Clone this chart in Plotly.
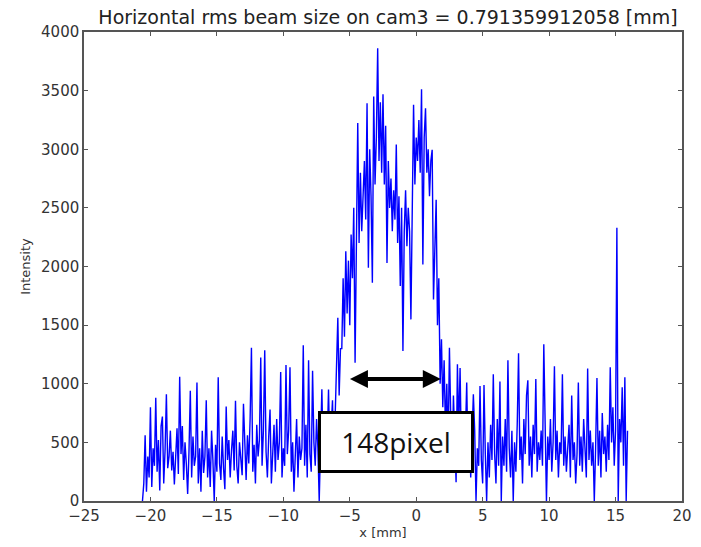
import numpy as np
import plotly.graph_objects as go

# x grid: -20.6 mm to 15.9 mm in 0.1 mm steps (one row per mm)
x_start = -20.6
x_step = 0.1

intensity_rows = [
    [0, 150, 560, 80, 380, 200, 800, 120, 450, 300],            # -20.6
    [880, 250, 520, 90, 640, 720, 150, 430, 910, 280],          # -19.6
    [380, 600, 260, 420, 140, 350, 620, 230, 1060, 400],        # -18.6
    [640, 180, 500, 320, 60, 420, 940, 200, 550, 300],          # -17.6
    [380, 1010, 150, 450, 80, 600, 240, 380, 860, 200],         # -16.6
    [450, 120, 600, 350, 0, 480, 250, 1055, 320, 180],          # -15.6
    [550, 280, 100, 806, 350, 520, 200, 430, 600, 260],         # -14.6
    [855, 300, 150, 500, 380, 220, 830, 400, 180, 560],         # -13.6
    [320, 700, 1308, 250, 480, 150, 650, 380, 520, 1223],       # -12.6
    [300, 600, 1285, 420, 200, 550, 780, 150, 400, 650],        # -11.6
    [250, 700, 350, 500, 1100, 200, 450, 300, 1160, 400],       # -10.6
    [600, 1140, 250, 500, 80, 380, 700, 200, 550, 350],         # -9.6
    [450, 1328, 300, 650, 200, 1200, 400, 250, 1110, 500],      # -8.6
    [300, 700, 450, 0, 600, 953, 350, 550, 250, 480],           # -7.6
    [950, 400, 620, 860, 300, 700, 1237, 1563, 900, 1300],      # -6.6
    [1300, 1900, 1400, 2130, 1600, 2050, 1500, 2272, 1900, 2500],  # -5.6
    [1180, 2400, 3223, 2200, 2800, 2300, 2650, 2900, 2400, 3393],  # -4.6
    [1990, 3000, 2600, 1861, 3450, 2700, 3100, 3861, 2900, 3400],  # -3.6
    [2800, 3470, 2700, 3200, 2031, 2900, 2500, 2750, 2300, 2650],  # -2.6
    [2400, 3040, 2200, 2600, 1833, 2500, 1279, 2300, 2650, 2173],  # -1.6
    [2500, 2300, 1549, 2800, 3379, 2700, 3100, 2900, 3250, 2800],  # -0.6
    [3512, 2017, 3100, 3350, 2800, 3000, 2600, 2900, 2996, 1719],  # 0.4
    [2300, 2570, 1500, 1900, 1000, 1379, 800, 1200, 600, 1000],    # 1.4
    [450, 1308, 700, 300, 900, 500, 160, 1166, 600, 1135],      # 2.4
    [400, 750, 250, 550, 1010, 300, 650, 200, 500, 910],        # 3.4
    [600, 0, 450, 300, 981, 350, 150, 990, 400, 0],             # 4.4
    [500, 200, 650, 350, 1081, 400, 150, 700, 300, 1020],       # 5.4
    [0, 550, 300, 700, 250, 1200, 450, 200, 600, 0],            # 6.4
    [500, 250, 650, 1260, 350, 550, 150, 700, 400, 900],        # 7.4
    [1030, 300, 550, 200, 650, 400, 1040, 250, 500, 350],       # 8.4
    [600, 300, 1336, 450, 0, 550, 350, 700, 250, 500],          # 9.4
    [1150, 350, 600, 200, 500, 400, 1080, 300, 550, 250],       # 10.4
    [450, 650, 200, 900, 350, 500, 150, 400, 1010, 300],        # 11.4
    [550, 250, 700, 400, 200, 1130, 350, 600, 300, 500],        # 12.4
    [0, 450, 1050, 300, 600, 200, 750, 400, 550, 250],          # 13.4
    [650, 350, 1140, 500, 800, 300, 600, 2330, 0, 700],         # 14.4
    [500, 970, 300, 1055, 0, 600],                              # 15.4
]

intensity = [v for row in intensity_rows for v in row]
x_mm = np.round(x_start + x_step * np.arange(len(intensity)), 2)

title_text = "Horizontal rms beam size on cam3 = 0.791359912058 [mm]"
x_ticks = [-25, -20, -15, -10, -5, 0, 5, 10, 15, 20]
y_ticks = [0, 500, 1000, 1500, 2000, 2500, 3000, 3500, 4000]
arrow_x = [-5.1, 1.85]
arrow_y = 1040
label_text = "148pixel"
label_pos = (-1.55, 500)

fig = go.Figure()
fig.add_trace(go.Scatter(
    x=x_mm, y=intensity, mode="lines",
    line=dict(color="#0000ff", width=1.4),
    showlegend=False, hoverinfo="skip",
))

axis_common = dict(
    showgrid=False, zeroline=False, showline=True, linecolor="#555555",
    linewidth=1.5, mirror="ticks", ticks="inside", ticklen=4,
    tickcolor="#555555", tickfont=dict(family="DejaVu Sans", size=15, color="#333333"),
)

fig.update_xaxes(range=[-25, 20], tickvals=x_ticks,
                 ticktext=[str(t).replace("-", "\u2212") for t in x_ticks],
                 title=dict(text="x [mm]", font=dict(family="DejaVu Sans", size=13, color="#333333"), standoff=4),
                 **axis_common)
fig.update_yaxes(range=[0, 4000], tickvals=y_ticks,
                 title=dict(text="Intensity", font=dict(family="DejaVu Sans", size=13, color="#333333"), standoff=8),
                 **axis_common)

fig.add_annotation(
    x=arrow_x[1], y=arrow_y, ax=arrow_x[0], ay=arrow_y,
    xref="x", yref="y", axref="x", ayref="y",
    text="", showarrow=True, arrowhead=2, arrowside="end+start",
    arrowsize=0.9, arrowwidth=4, arrowcolor="black",
)
fig.add_annotation(
    x=label_pos[0], y=label_pos[1], xref="x", yref="y",
    text=label_text, showarrow=False,
    font=dict(family="Open Sans", size=28, color="#111111"),
    bgcolor="white", bordercolor="black", borderwidth=3, borderpad=6,
    width=138, height=44,
)

fig.update_layout(
    width=701, height=547,
    margin=dict(l=84, r=9, t=32, b=45),
    paper_bgcolor="white", plot_bgcolor="white",
    title=dict(text=title_text, x=(84 + 692) / 2 / 701, xanchor="center",
               y=1 - 17 / 547, yanchor="middle",
               font=dict(family="DejaVu Sans", size=19, color="#222222")),
)

fig.write_html("out.html")
